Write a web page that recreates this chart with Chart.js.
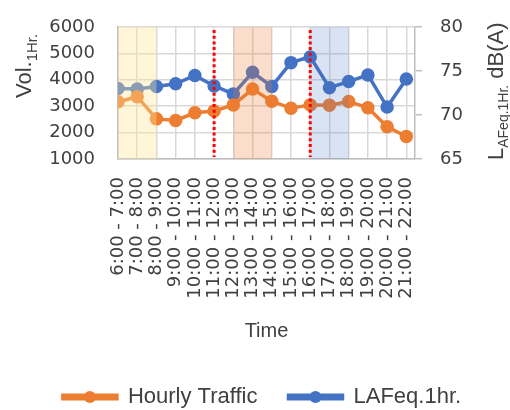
<!DOCTYPE html>
<html>
<head>
<meta charset="utf-8">
<script src="https://cdn.jsdelivr.net/npm/chart.js@4.4.1/dist/chart.umd.min.js"></script>
<style>
  html, body { margin: 0; padding: 0; background: #fff; }
  #wrap { width: 510px; height: 410px; }
</style>
</head>
<body>
<div id="wrap"><canvas id="trafficChart"></canvas></div>
<script>
// hourly time slots on the x axis
const timeSlots = ['6:00 - 7:00', '7:00 - 8:00', '8:00 - 9:00', '9:00 - 10:00', '10:00 - 11:00',
  '11:00 - 12:00', '12:00 - 13:00', '13:00 - 14:00', '14:00 - 15:00', '15:00 - 16:00',
  '16:00 - 17:00', '17:00 - 18:00', '18:00 - 19:00', '19:00 - 20:00', '20:00 - 21:00', '21:00 - 22:00'];

// vehicles per hour (left axis)
const hourlyTraffic = [3170, 3360, 2520, 2460, 2750, 2820, 3050, 3650, 3190, 2920, 3050, 3040, 3180, 2940, 2220, 1850];
// LAFeq,1hr in dB(A) (right axis)
const laeqHourly = [73.0, 72.95, 73.25, 73.55, 74.5, 73.3, 72.4, 74.85, 73.25, 75.95, 76.6, 73.1, 73.8, 74.55, 70.9, 74.1];

// shaded peak periods (slot index from, to) and the red dotted markers
const shadedFrom = [0, 6, 10];
const shadedTo = [2, 8, 12];
const shadedColors = ['rgba(255, 230, 153, 0.38)', 'rgba(237, 125, 49, 0.25)', 'rgba(68, 114, 196, 0.2)'];
const markerSlots = [5, 10];

const tickFont = { family: 'DejaVu Sans', size: 18 };
const textColor = '#404040';
const gridColor = '#D9D9D9';

// y axes: fixed width, no extra top/bottom padding from tick padding
function fixAxis(width) {
  return s => {
    s.width = width;
    s.paddingTop = 0;
    s.paddingBottom = 0;
  };
}

// bands + red dotted lines, drawn over the lines like the original
const overlayPlugin = {
  id: 'overlay',
  afterDatasetsDraw(chart) {
    const ctx = chart.ctx;
    const x = chart.scales.x;
    const area = chart.chartArea;
    ctx.save();
    for (let i = 0; i < shadedFrom.length; i++) {
      const x0 = x.getPixelForValue(shadedFrom[i]);
      const x1 = x.getPixelForValue(shadedTo[i]);
      ctx.fillStyle = shadedColors[i];
      ctx.fillRect(x0, area.top, x1 - x0, area.bottom - area.top);
    }
    ctx.strokeStyle = '#FF0000';
    ctx.lineWidth = 3;
    ctx.setLineDash([3, 2.7]);
    markerSlots.forEach(s => {
      const px = x.getPixelForValue(s);
      ctx.beginPath();
      ctx.moveTo(px, area.top + 3);
      ctx.lineTo(px, area.bottom - 2);
      ctx.stroke();
    });
    ctx.restore();
  },
  afterDraw(chart) {
    const ctx = chart.ctx;
    ctx.save();
    ctx.fillStyle = textColor;
    ctx.textAlign = 'left';
    ctx.textBaseline = 'alphabetic';

    // left axis title: Vol. with subscript 1Hr.
    ctx.save();
    ctx.translate(31, 98);
    ctx.rotate(-Math.PI / 2);
    ctx.font = '22px "Liberation Sans"';
    ctx.fillText('Vol.', 0, 0);
    let w = ctx.measureText('Vol.').width;
    ctx.font = '15px "Liberation Sans"';
    ctx.fillText('1Hr.', w, 6);
    ctx.restore();

    // right axis title: L with subscript AFeq.1Hr. then dB(A)
    ctx.save();
    ctx.translate(503, 160);
    ctx.rotate(-Math.PI / 2);
    ctx.font = '22px "Liberation Sans"';
    ctx.fillText('L', 0, 0);
    w = ctx.measureText('L').width;
    ctx.font = '14px "Liberation Sans"';
    ctx.fillText('AFeq.1Hr.', w, 5);
    w += ctx.measureText('AFeq.1Hr.').width;
    ctx.font = '22px "Liberation Sans"';
    ctx.fillText(' dB(A)', w, 0);
    ctx.restore();

    // dots on the legend lines
    const legend = chart.legend;
    if (legend && legend.legendHitBoxes) {
      const bw = legend.options.labels.boxWidth;
      legend.legendHitBoxes.forEach((box, i) => {
        const ds = chart.data.datasets[i];
        ctx.beginPath();
        ctx.fillStyle = ds.borderColor;
        ctx.arc(box.left + bw / 2, box.top + box.height / 2, 6, 0, Math.PI * 2);
        ctx.fill();
      });
    }
    ctx.restore();
  }
};

new Chart(document.getElementById('trafficChart'), {
  type: 'line',
  data: {
    datasets: [{
      label: 'Hourly Traffic',
      data: hourlyTraffic.map((v, i) => ({ x: i, y: v })),
      yAxisID: 'y',
      borderColor: '#ED7D31',
      backgroundColor: '#ED7D31',
      borderWidth: 3.5,
      pointRadius: 5,
      pointHoverRadius: 5,
      tension: 0
    }, {
      label: 'LAFeq.1hr.',
      data: laeqHourly.map((v, i) => ({ x: i, y: v })),
      yAxisID: 'y1',
      borderColor: '#4472C4',
      backgroundColor: '#4472C4',
      borderWidth: 3.5,
      pointRadius: 5,
      pointHoverRadius: 5,
      tension: 0
    }]
  },
  options: {
    responsive: true,
    maintainAspectRatio: false,
    animation: false,
    layout: { padding: { left: 14, right: 0, top: 27, bottom: -8 } },
    scales: {
      x: {
        type: 'linear',
        min: 0,
        max: 15.45,
        afterFit: s => { s.height = 196; },
        grid: { color: gridColor, lineWidth: 1.5, drawTicks: false },
        border: { color: '#BFBFBF', width: 1.5 },
        ticks: {
          stepSize: 1,
          includeBounds: false,
          autoSkip: false,
          maxRotation: 90,
          minRotation: 90,
          padding: 18,
          font: tickFont,
          color: textColor,
          callback: v => timeSlots[v] || ''
        },
        title: {
          display: true,
          text: 'Time',
          font: { family: 'Liberation Sans', size: 20 },
          color: textColor,
          padding: { top: 22, bottom: 12 }
        }
      },
      y: {
        position: 'left',
        min: 1000,
        max: 6000,
        afterFit: fixAxis(104),
        grid: { color: gridColor, lineWidth: 1.5, drawTicks: false },
        border: { color: '#BFBFBF', width: 1.5 },
        ticks: { stepSize: 1000, autoSkip: false, padding: 23, font: tickFont, color: textColor, callback: v => String(v) }
      },
      y1: {
        position: 'right',
        min: 65,
        max: 80,
        afterFit: fixAxis(95),
        grid: { drawOnChartArea: false, color: '#BFBFBF', tickLength: 7, lineWidth: 1.5 },
        border: { color: '#BFBFBF', width: 1.5 },
        ticks: { stepSize: 5, autoSkip: false, padding: 18, font: tickFont, color: textColor, callback: v => String(v) }
      }
    },
    plugins: {
      legend: {
        position: 'bottom',
        labels: {
          boxWidth: 54,
          boxHeight: 3.5,
          padding: 31,
          font: { family: 'Liberation Sans', size: 22 },
          color: textColor
        }
      },
      tooltip: { enabled: false }
    }
  },
  plugins: [overlayPlugin]
});
</script>
</body>
</html>
